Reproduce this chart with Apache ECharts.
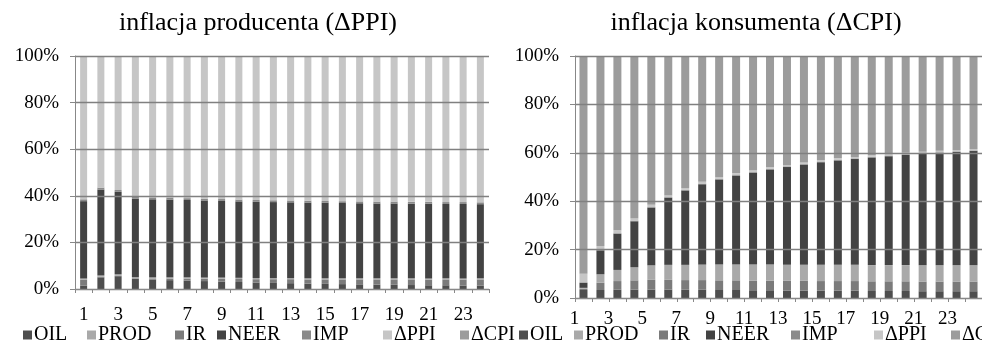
<!DOCTYPE html>
<html>
<head>
<meta charset="utf-8">
<script src="https://cdn.jsdelivr.net/npm/echarts@6/dist/echarts.min.js"></script>
<style>
html,body{margin:0;padding:0;background:#fff;}
#c{width:982px;height:349px;}
</style>
</head>
<body>
<div id="c"></div>
<script>
// ---- data ----
const categories = ['1','2','3','4','5','6','7','8','9','10','11','12','13','14','15','16','17','18','19','20','21','22','23','24'];
const seriesNames = ['OIL','PROD','IR','NEER','IMP','ΔPPI','ΔCPI'];
const titleLeft = 'inflacja producenta (ΔPPI)';
const titleRight = 'inflacja konsumenta (ΔCPI)';
const yTickValues = [0, 20, 40, 60, 80, 100];

// Producer inflation (ΔPPI) decomposition, % shares
const OIL_L  = [1.5, 5.0, 5.5, 4.3, 4.0, 3.8, 3.6, 3.4, 3.2, 3.0, 2.8, 2.6, 2.5, 2.3, 2.2, 2.1, 2.0, 1.9, 1.8, 1.7, 1.6, 1.6, 1.5, 1.5];
const PROD_L = [0.5, 0.5, 0.5, 0.5, 0.5, 0.5, 0.5, 0.5, 0.5, 0.5, 0.5, 0.5, 0.5, 0.5, 0.5, 0.5, 0.5, 0.5, 0.5, 0.5, 0.5, 0.5, 0.5, 0.5];
const IR_L   = [2.5, 0.3, 0.3, 0.3, 0.5, 0.7, 0.9, 1.0, 1.2, 1.3, 1.4, 1.6, 1.7, 1.8, 1.9, 2.0, 2.1, 2.2, 2.3, 2.4, 2.4, 2.5, 2.5, 2.6];
const NEER_L = [33.2, 36.9, 35.4, 33.6, 33.5, 33.4, 33.2, 33.1, 32.9, 32.8, 32.7, 32.6, 32.5, 32.5, 32.4, 32.3, 32.2, 32.1, 32.1, 32.0, 32.1, 31.9, 32.0, 31.8];
const IMP_L  = [0.8, 0.8, 0.8, 0.8, 0.8, 0.8, 0.8, 0.8, 0.8, 0.8, 0.8, 0.8, 0.8, 0.8, 0.8, 0.8, 0.8, 0.8, 0.8, 0.8, 0.8, 0.8, 0.8, 0.8];
const PPI_L  = [61.5, 56.5, 57.5, 60.5, 60.7, 60.8, 61.0, 61.2, 61.4, 61.6, 61.8, 61.9, 62.0, 62.1, 62.2, 62.3, 62.4, 62.5, 62.5, 62.6, 62.6, 62.7, 62.7, 62.8];
const CPI_L  = [0, 0, 0, 0, 0, 0, 0, 0, 0, 0, 0, 0, 0, 0, 0, 0, 0, 0, 0, 0, 0, 0, 0, 0];

// Consumer inflation (ΔCPI) decomposition, % shares
const OIL_R  = [3.3, 3.3, 3.4, 3.5, 3.5, 3.5, 3.4, 3.4, 3.3, 3.3, 3.2, 3.2, 3.1, 3.1, 3.0, 3.0, 3.0, 2.9, 2.9, 2.9, 2.8, 2.8, 2.8, 2.8];
const PROD_R = [0.3, 3.5, 4.6, 5.4, 6.0, 6.2, 6.3, 6.4, 6.5, 6.5, 6.6, 6.6, 6.6, 6.6, 6.7, 6.7, 6.7, 6.7, 6.7, 6.7, 6.7, 6.7, 6.7, 6.7];
const IR_R   = [0.6, 3.0, 3.6, 3.8, 4.0, 4.0, 4.0, 4.0, 4.0, 4.0, 4.0, 4.0, 4.0, 4.0, 4.0, 4.0, 4.0, 4.0, 4.0, 4.0, 4.0, 4.0, 4.0, 4.0];
const NEER_R = [2.0, 9.9, 14.9, 19.0, 23.8, 27.7, 30.7, 33.2, 35.2, 36.7, 38.0, 39.3, 40.4, 41.4, 42.4, 43.1, 43.7, 44.5, 45.0, 45.5, 46.0, 46.4, 46.8, 47.2];
const IMP_R  = [0.3, 0.3, 0.3, 0.3, 0.3, 0.3, 0.3, 0.3, 0.3, 0.3, 0.3, 0.3, 0.3, 0.3, 0.3, 0.3, 0.3, 0.3, 0.3, 0.3, 0.3, 0.3, 0.3, 0.3];
const PPI_R  = [3.5, 1.5, 1.2, 1.0, 0.9, 0.8, 0.8, 0.7, 0.7, 0.7, 0.7, 0.6, 0.6, 0.6, 0.6, 0.6, 0.6, 0.6, 0.6, 0.6, 0.6, 0.6, 0.6, 0.6];
const CPI_R  = [90.0, 78.5, 72.0, 67.0, 61.5, 57.5, 54.5, 52.0, 50.0, 48.5, 47.2, 46.0, 45.0, 44.0, 43.0, 42.3, 41.7, 41.0, 40.5, 40.0, 39.6, 39.2, 38.8, 38.4];

// ---- styling ----
const FONT = "'Liberation Serif', 'DejaVu Serif', serif";
const colors = {'OIL':'#4e4e4e','PROD':'#a9a9a9','IR':'#7b7b7b','NEER':'#434343','IMP':'#8a8a8a','ΔPPI':'#c6c6c6','ΔCPI':'#9c9c9c'};
// stacking order bottom -> top
const stackOrder = ['OIL','IR','PROD','NEER','IMP','ΔPPI','ΔCPI'];
const dataL = {'OIL':OIL_L,'PROD':PROD_L,'IR':IR_L,'NEER':NEER_L,'IMP':IMP_L,'ΔPPI':PPI_L,'ΔCPI':CPI_L};
const dataR = {'OIL':OIL_R,'PROD':PROD_R,'IR':IR_R,'NEER':NEER_R,'IMP':IMP_R,'ΔPPI':PPI_R,'ΔCPI':CPI_R};

const legendXL = [23, 87, 175, 217, 302, 383, 460];
const legendXR = [519, 574, 659, 706, 791, 874, 951];

function xAxis(gridIndex, margin, pad) {
  return {
    type:'category', gridIndex, data: categories, z:3,
    axisLine:{show:true, lineStyle:{color:'#888', width:1}},
    axisTick:{show:true, interval:0, length:4, lineStyle:{color:'#888'}},
    axisLabel:{interval:1, margin, color:'#000', fontFamily:FONT, fontSize:19, padding:pad}
  };
}
function yAxis(gridIndex) {
  return {
    type:'value', gridIndex, min:0, max:100, interval:20, z:3,
    axisLine:{show:true, lineStyle:{color:'#888', width:1}},
    axisTick:{show:true, length:5, lineStyle:{color:'#888'}},
    splitLine:{show:true, lineStyle:{color:'#808080', width:1.3}},
    axisLabel:{margin:16, color:'#000', fontFamily:FONT, fontSize:19, formatter: v => yTickValues.includes(v) ? v + '%' : ''}
  };
}

const series = [];
stackOrder.forEach(n => {
  series.push({name:n, type:'bar', stack:'L', xAxisIndex:0, yAxisIndex:0, barWidth:7,
    itemStyle:{color:colors[n]}, data:dataL[n], animation:false});
});
stackOrder.forEach(n => {
  series.push({name:n, type:'bar', stack:'R', xAxisIndex:1, yAxisIndex:1, barWidth:8,
    itemStyle:{color:colors[n]}, data:dataR[n], animation:false});
});

const legends = [];
seriesNames.forEach((n, i) => {
  [legendXL[i], legendXR[i]].forEach(x => {
    legends.push({
      data:[n], left:x, top:325, orient:'horizontal', selectedMode:false,
      icon:'rect', itemWidth:9, itemHeight:9, padding:0,
      textStyle:{fontFamily:FONT, fontSize:20, color:'#000', padding:[0,0,0,-3]}
    });
  });
});

const chart = echarts.init(document.getElementById('c'), null, {renderer:'canvas'});
chart.setOption({
  animation:false,
  backgroundColor:'#fff',
  title:[
    {text:titleLeft, left:253, top:5, textAlign:'center', textStyle:{fontFamily:FONT, fontSize:26, fontWeight:'normal', color:'#000'}},
    {text:titleRight, left:751, top:5, textAlign:'center', textStyle:{fontFamily:FONT, fontSize:26, fontWeight:'normal', color:'#000'}}
  ],
  legend: legends,
  grid:[
    {left:75, top:56, width:414, height:233},
    {left:575, top:56, width:417, height:242}
  ],
  xAxis:[xAxis(0, 17, 0), xAxis(1, 12, [0,18,0,0])],
  yAxis:[yAxis(0), yAxis(1)],
  series
});
</script>
</body>
</html>
